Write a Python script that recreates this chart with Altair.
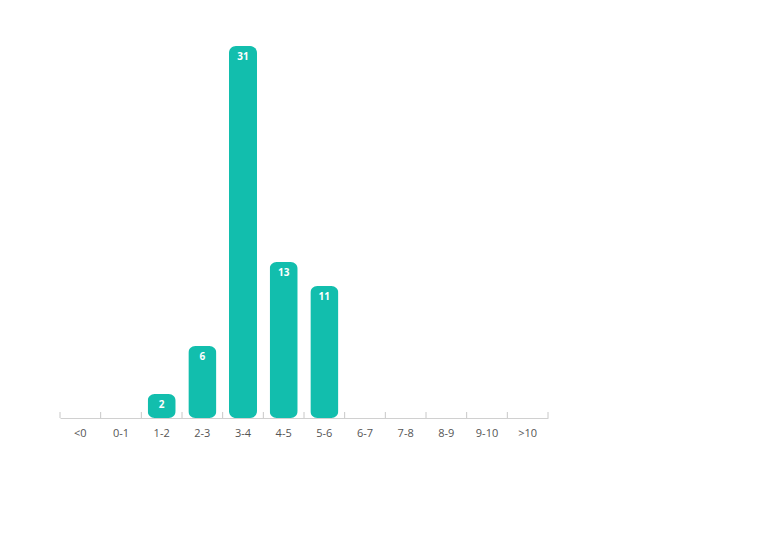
import altair as alt
import pandas as pd

categories = ["<0", "0-1", "1-2", "2-3", "3-4", "4-5", "5-6", "6-7", "7-8", "8-9", "9-10", ">10"]
counts = [0, 0, 2, 6, 31, 13, 11, 0, 0, 0, 0, 0]

df = pd.DataFrame({"range": categories, "count": counts})
df["label"] = [str(c) if c > 0 else "" for c in counts]

xscale = alt.Scale(domain=categories, paddingInner=0, paddingOuter=0)
yscale = alt.Scale(domain=[0, 31], nice=False)

base = alt.Chart(df)

x_axis = alt.Axis(
    title=None, labelAngle=0, ticks=False, domainColor="#d0d0d0",
    labelColor="#555555", labelFontSize=11, labelFont="Open Sans",
    labelPadding=9, grid=False, bandPosition=0.5, labelAlign="center",
)

bars = base.transform_filter("datum.count > 0").mark_bar(
    width=alt.RelativeBandSize(0.69), cornerRadius=7, color="#12BEAD"
).encode(
    x=alt.X("range:N", scale=xscale, axis=x_axis, sort=categories),
    y=alt.Y("count:Q", scale=yscale, axis=None),
)

texts = base.transform_filter("datum.count > 0").mark_text(
    baseline="top", dy=6, color="white", fontSize=10, fontWeight="bold", font="Open Sans"
).encode(
    x=alt.X("range:N", scale=xscale, sort=categories),
    y=alt.Y("count:Q", scale=yscale),
    text="label:N",
)

ticks = base.mark_rule(color="#c8c8c8").encode(
    x=alt.X("range:N", scale=xscale, sort=categories, bandPosition=0),
    y=alt.value(366),
    y2=alt.value(372),
)

last_tick = base.transform_filter("datum.range == '>10'").mark_rule(color="#c8c8c8").encode(
    x=alt.X("range:N", scale=xscale, sort=categories, bandPosition=1),
    y=alt.value(366),
    y2=alt.value(372),
)

chart = alt.layer(bars, texts, ticks, last_tick).properties(
    width=488, height=372,
    autosize=alt.AutoSizeParams(type="none"),
    padding={"left": 52, "top": 38, "right": 10, "bottom": 60},
).configure_view(stroke=None)

chart.save("out.html", embed_options={"renderer": "svg", "actions": False})
